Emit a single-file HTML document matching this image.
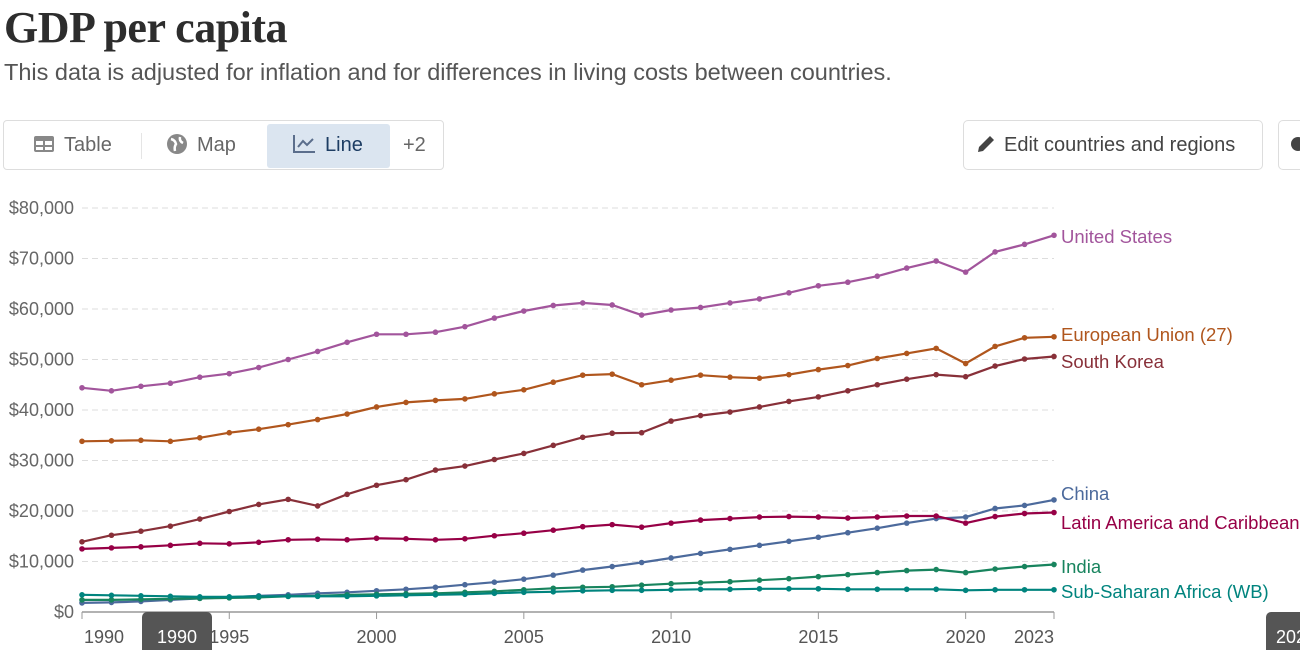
<!DOCTYPE html>
<html><head><meta charset="utf-8">
<style>
body{margin:0;width:1300px;height:650px;overflow:hidden;background:#fff;font-family:"Liberation Sans",sans-serif;position:relative}
h1{position:absolute;left:4px;top:2px;margin:0;font-family:"Liberation Serif",serif;font-size:44px;font-weight:bold;color:#2d2d2d;letter-spacing:-0.5px}
.sub{position:absolute;left:4px;top:59px;font-size:23.5px;color:#555}
.tabs{position:absolute;left:3px;top:120px;width:441px;height:50px;border:1px solid #ddd;border-radius:4px;box-sizing:border-box}
.tab{position:absolute;top:0;height:48px;line-height:48px;font-size:20px;color:#666}
.btn{position:absolute;left:963px;top:120px;width:300px;height:50px;border:1px solid #ddd;border-radius:5px;box-sizing:border-box;font-size:20px;color:#444;line-height:48px}
</style></head><body>
<h1>GDP per capita</h1>
<div class="sub">This data is adjusted for inflation and for differences in living costs between countries.</div>
<div class="tabs">
 <div class="tab" style="left:30px"><svg width="20" height="16" style="vertical-align:-1px;margin-right:10px"><rect x="0" y="0" width="20" height="16" rx="2" fill="#888"/><rect x="2" y="5" width="7" height="4" fill="#fff"/><rect x="11" y="5" width="7" height="4" fill="#fff"/><rect x="2" y="11" width="7" height="3" fill="#fff"/><rect x="11" y="11" width="7" height="3" fill="#fff"/></svg>Table</div>
 <div style="position:absolute;left:137px;top:12px;width:1px;height:26px;background:#e5e5e5"></div>
 <div class="tab" style="left:163px"><svg width="20" height="20" style="vertical-align:-3px;margin-right:10px"><circle cx="10" cy="10" r="10" fill="#888"/><path d="M4 5 Q8 6 9 10 Q7 13 8 17 M13 3 Q12 7 16 9" stroke="#fff" stroke-width="2.5" fill="none"/></svg>Map</div>
 <div style="position:absolute;left:263px;top:3px;width:123px;height:44px;background:#dbe5f0;border-radius:3px"></div>
 <div class="tab" style="left:289px;color:#1d3d63"><svg width="22" height="18" style="vertical-align:-2px;margin-right:10px"><path d="M1 0V17H22" stroke="#5b6e8c" stroke-width="2" fill="none"/><path d="M5 12L10 6L14 10L20 4" stroke="#5b6e8c" stroke-width="2" fill="none"/></svg>Line</div>
 <div class="tab" style="left:399px">+2</div>
</div>
<div class="btn"><svg width="20" height="20" style="vertical-align:-3px;margin:0 8px 0 12px"><path d="M2 18L3 13L14 2L18 6L7 17Z" fill="#444"/></svg>Edit countries and regions</div>
<div style="position:absolute;left:1278px;top:120px;width:40px;height:50px;border:1px solid #ddd;border-radius:5px;box-sizing:border-box"><div style="position:absolute;left:12px;top:16px;width:14px;height:14px;border-radius:50%;background:#444"></div></div>
<svg id="chart" width="1300" height="650" style="position:absolute;left:0;top:0"></svg>
<script>
const years=[];for(let y=1990;y<=2023;y++)years.push(y);
const yTicks=[0,10000,20000,30000,40000,50000,60000,70000,80000];
const yTickLabels=["$0","$10,000","$20,000","$30,000","$40,000","$50,000","$60,000","$70,000","$80,000"];
const xTicks=[1990,1995,2000,2005,2010,2015,2020,2023];
const usVals=[44.4,43.8,44.7,45.3,46.5,47.2,48.4,50.0,51.6,53.4,55.0,55.0,55.4,56.5,58.2,59.6,60.7,61.2,60.8,58.8,59.8,60.3,61.2,62.0,63.2,64.6,65.3,66.5,68.1,69.5,67.3,71.3,72.8,74.6];
const euVals=[33.8,33.9,34.0,33.8,34.5,35.5,36.2,37.1,38.1,39.2,40.6,41.5,41.9,42.2,43.2,44.0,45.5,46.9,47.1,45.0,45.9,46.9,46.5,46.3,47.0,48.0,48.8,50.2,51.2,52.2,49.2,52.6,54.3,54.5];
const krVals=[13.9,15.2,16.0,17.0,18.4,19.9,21.3,22.3,21.0,23.3,25.1,26.2,28.1,28.9,30.2,31.4,33.0,34.6,35.4,35.5,37.8,38.9,39.6,40.6,41.7,42.6,43.8,45.0,46.1,47.0,46.6,48.7,50.1,50.6];
const cnVals=[1.8,1.9,2.1,2.4,2.7,2.9,3.2,3.4,3.7,3.9,4.2,4.5,4.9,5.4,5.9,6.5,7.3,8.3,9.0,9.8,10.7,11.6,12.4,13.2,14.0,14.8,15.7,16.6,17.6,18.5,18.8,20.5,21.1,22.2];
const laVals=[12.5,12.7,12.9,13.2,13.6,13.5,13.8,14.3,14.4,14.3,14.6,14.5,14.3,14.5,15.1,15.6,16.2,16.9,17.3,16.8,17.6,18.2,18.5,18.8,18.9,18.8,18.6,18.8,19.0,19.0,17.6,18.9,19.5,19.7];
const inVals=[2.4,2.4,2.5,2.6,2.7,2.8,2.9,3.1,3.2,3.4,3.5,3.6,3.7,3.9,4.1,4.4,4.7,4.9,5.0,5.3,5.6,5.8,6.0,6.3,6.6,7.0,7.4,7.8,8.2,8.4,7.8,8.5,9.0,9.4];
const ssVals=[3.4,3.3,3.2,3.1,3.0,3.0,3.1,3.1,3.1,3.1,3.2,3.3,3.4,3.5,3.7,3.9,4.0,4.2,4.3,4.3,4.4,4.5,4.5,4.6,4.6,4.6,4.5,4.5,4.5,4.5,4.3,4.4,4.4,4.4];
const series=[
 {name:"United States",vals:usVals,color:"#a2559c",labelY:237,key:"us"},
 {name:"European Union (27)",vals:euVals,color:"#b0561d",labelY:335,key:"eu"},
 {name:"South Korea",vals:krVals,color:"#883039",labelY:362,key:"korea"},
 {name:"China",vals:cnVals,color:"#4c6a9c",labelY:494,key:"china"},
 {name:"Latin America and Caribbean",vals:laVals,color:"#970046",labelY:523,key:"latam"},
 {name:"India",vals:inVals,color:"#18845e",labelY:567,key:"india"},
 {name:"Sub-Saharan Africa (WB)",vals:ssVals,color:"#00847e",labelY:592,key:"ssa"}
];
const X=y=>82+(y-1990)*(1054-82)/33;
const Y=v=>612-v*(612-208)/80000;
const NS="http://www.w3.org/2000/svg",svg=document.getElementById('chart');
function mk(t,a){const e=document.createElementNS(NS,t);for(const k in a)e.setAttribute(k,a[k]);svg.appendChild(e);return e;}
yTicks.forEach((v,i)=>{
 if(v>0){const g=mk('line',{x1:82,x2:1054,y1:Y(v),y2:Y(v),stroke:'#ddd','stroke-dasharray':'6,4'});
 
 }
 const t=mk('text',{x:74,y:Y(v)+6,'text-anchor':'end','font-size':18,fill:'#666'});t.textContent=yTickLabels[i];
 
 
});
const ax=mk('line',{x1:82,x2:1054,y1:612,y2:612,stroke:'#999','stroke-width':1.5});


xTicks.forEach(y=>{
 const tk=mk('line',{x1:X(y),x2:X(y),y1:612,y2:619,stroke:'#999'});
 
 
 const anchor=y===1990?'start':(y===2023?'end':'middle');
 const t=mk('text',{x:y===1990?X(y)+2:X(y),y:643,'text-anchor':anchor,'font-size':18,fill:'#555'});t.textContent=y;
 
 
});
series.forEach(s=>{
 const d=s.vals.map((v,i)=>(i?'L':'M')+X(years[i]).toFixed(1)+' '+Y(v*1000).toFixed(1)).join('');
 const p=mk('path',{d:d,stroke:s.color,'stroke-width':2.2,fill:'none'});
 
 
 s.vals.forEach((v,i)=>{const c=mk('circle',{cx:X(years[i]),cy:Y(v*1000),r:2.8,fill:s.color});
  
  });
 const t=mk('text',{x:1061,y:s.labelY+6,'font-size':18.5,fill:s.color});t.textContent=s.name;
 
 
});
const h1=mk('rect',{x:142,y:612,width:70,height:45,rx:5,fill:'#555'});


const ht=mk('text',{x:177,y:643,'text-anchor':'middle','font-size':18,fill:'#fff'});ht.textContent='1990';


const h2=mk('rect',{x:1266,y:612,width:70,height:45,rx:5,fill:'#555'});


const ht2=mk('text',{x:1276,y:643,'font-size':18,fill:'#fff'});ht2.textContent='2023';


</script>
</body></html>
